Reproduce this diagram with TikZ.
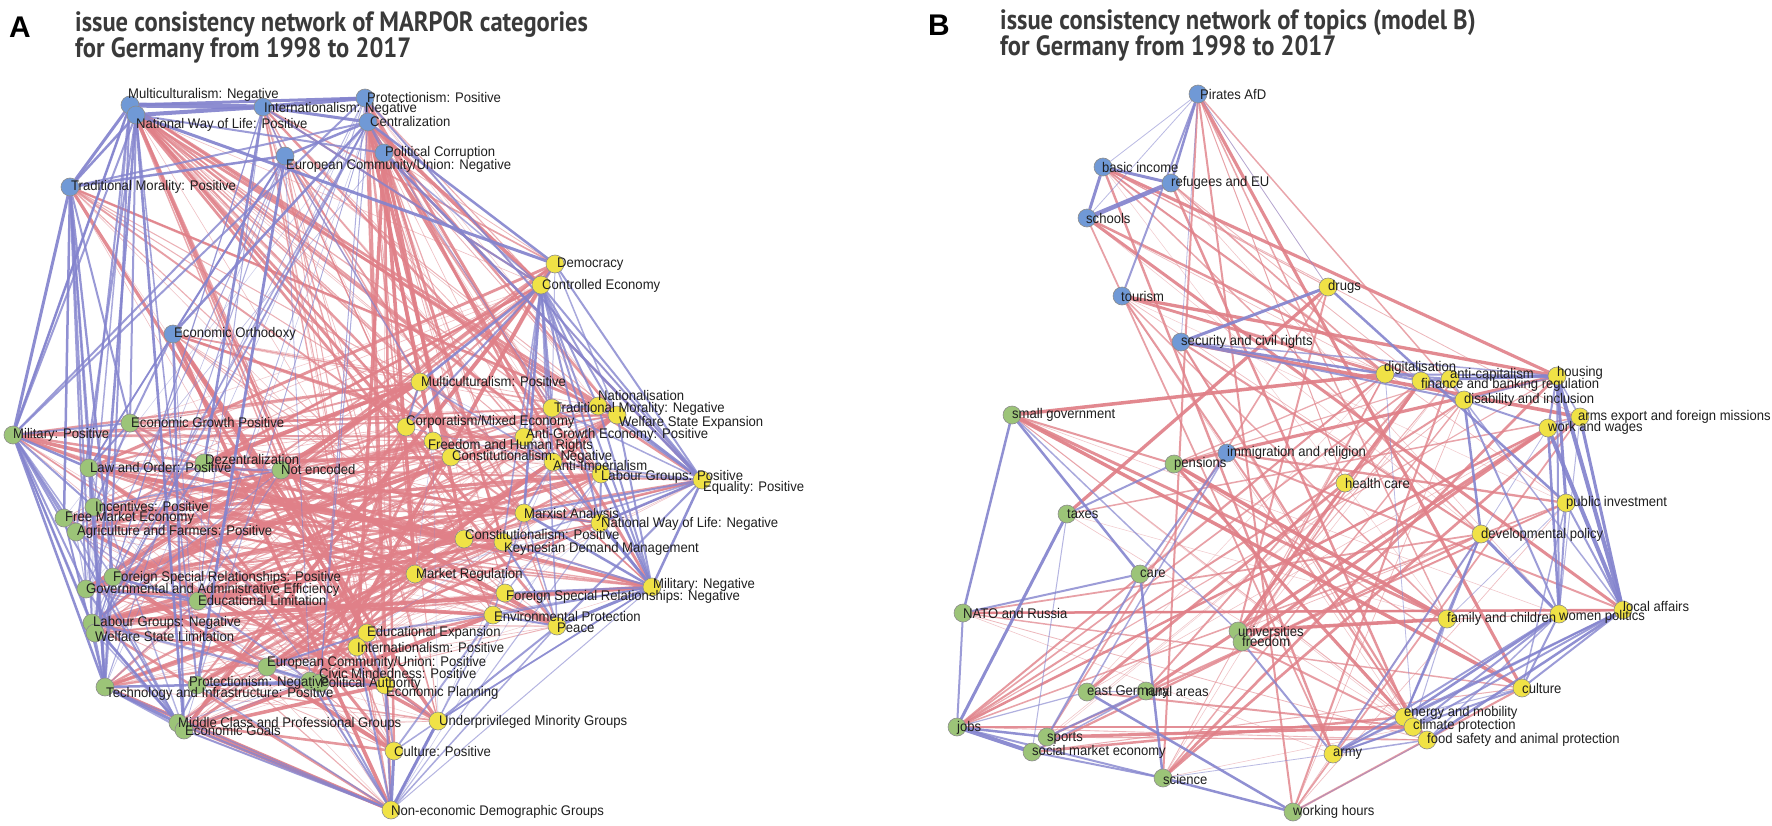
\documentclass[tikz,border=0pt]{standalone}
\usepackage{fontspec}
\setmainfont{Liberation Sans}
\newfontfamily\labfont{Liberation Sans}[FakeStretch=0.94]
\newfontfamily\labfontb{Liberation Sans}[FakeStretch=0.93]
\newfontfamily\titlefont{PT Sans}[FakeStretch=0.88]
\pgfdeclarelayer{edges}
\pgfdeclarelayer{labels}
\pgfsetlayers{edges,main,labels}
\definecolor{nblue}{RGB}{112,153,214}
\definecolor{ngreen}{RGB}{156,196,120}
\definecolor{nyellow}{RGB}{240,226,70}
\definecolor{eblue}{RGB}{132,132,206}
\definecolor{ered}{RGB}{224,128,136}
\definecolor{titlegray}{RGB}{58,58,58}
\tikzset{
  nd/.style={circle, minimum size=18bp, inner sep=0pt, draw=black!45, line width=0.6bp},
  bn/.style={nd, fill=nblue}, gn/.style={nd, fill=ngreen}, yn/.style={nd, fill=nyellow},
  labA/.style={anchor=west, inner sep=0pt, font=\labfont\fontsize{14}{15}\selectfont, text=black!88},
  labB/.style={anchor=west, inner sep=0pt, font=\labfontb\fontsize{14.1}{15}\selectfont, text=black!88},
  be/.style={draw=eblue, line cap=round},
  re/.style={draw=ered, line cap=round},
  ttl/.style={anchor=base west, inner sep=0pt, font=\titlefont\bfseries\fontsize{28}{30}\selectfont, text=titlegray},
  panel/.style={anchor=base west, inner sep=0pt, font=\bfseries\fontsize{30}{30}\selectfont, text=black},
}
\newcommand\vtx[8]{\node[#4] (#1) at (#2,#3) {};
  \begin{pgfonlayer}{labels}\node[#5] (#1-l) at (#6,#7) {#8};\end{pgfonlayer}}
\newcommand\crossedges[5]{%
  \foreach \a in #1 {\foreach \b in #2 {%
    \pgfmathsetmacro\rr{rnd}%
    \ifdim\rr pt<#3pt\relax
      \pgfmathsetmacro\rs{rnd}%
      \pgfmathsetmacro\ww{0.5+#5*\rs*\rs}%
      \pgfmathsetmacro\oo{0.4+0.55*\rs}%
      \draw[#4,line width=\ww bp,draw opacity=\oo] (\a) -- (\b);%
    \fi}}}
\newcommand\withinedges[4]{%
  \foreach \a [count=\i] in #1 {\foreach \b [count=\j] in #1 {%
    \ifnum\j>\i\relax
      \pgfmathsetmacro\rr{rnd}%
      \ifdim\rr pt<#2pt\relax
        \pgfmathsetmacro\rs{rnd}%
        \pgfmathsetmacro\ww{0.5+#4*\rs*\rs}%
        \pgfmathsetmacro\oo{0.3+0.5*\rs}%
        \draw[#3,line width=\ww bp,draw opacity=\oo] (\a) -- (\b);%
      \fi
    \fi}}}
\newcommand\fixededges[2]{%
  \foreach \u/\v/\w in {#2} {%
    \pgfmathsetmacro\oo{min(0.92,0.4+0.2*\w)}%
    \draw[#1,line width=\w bp,draw opacity=\oo] (\u) -- (\v);}}
\def\aBlue{aMultNeg,aNWLPos,aIntNeg,aProtPos,aCentral,aPolCorr,aEUNeg,aTradMorPos,aEconOrth}
\def\aGreen{aMilPos,aEconGrowth,aLawOrder,aDezent,aNotEnc,aIncent,aFreeMkt,aAgri,aFSRPos,aGovAdm,aEduLim,aLabNeg,aWelfLim,aTechInf,aProtNeg,aEUPos,aCivic,aPolAuth,aMidClass,aEconGoals}
\def\aYellow{aDemocracy,aContrEcon,aMultPos,aNationalis,aTradMorNeg,aWelfExp,aCorpor,aFreedom,aConstNeg,aAntiGrowth,aAntiImp,aLabPos,aEquality,aMarxist,aNWLNeg,aConstPos,aKeynes,aMktReg,aMilNeg,aFSRNeg,aEnvProt,aPeace,aEduExp,aIntPos,aEconPlan,aUnderpriv,aCulturePos,aNonEcon}
\def\bBG{bPirates,bBasic,bRefugees,bSchools,bTourism,bSecurity,bImmig,bSmallGov,bPensions,bTaxes,bCare,bNATO,bUniv,bFreedom,bEastG,bRural,bJobs,bSports,bSocMkt,bScience,bWorking}
\def\bYellow{bDrugs,bDigital,bFinance,bAnticap,bHousing,bDisab,bArms,bWork,bHealth,bPublic,bDevelop,bLocal,bWomen,bFamily,bCulture,bEnergy,bClimate,bFood,bArmy}
\begin{document}
\begin{tikzpicture}[x=1bp,y=-1bp]
\useasboundingbox (0,0) rectangle (1772,826);
\begin{pgfonlayer}{edges}
\fill[white] (0,0) rectangle (1772,826);
\end{pgfonlayer}
% titles
\node[panel] (pA) at (9,37) {A};
\node[ttl] (tA1) at (75,31) {issue consistency network of MARPOR categories};
\node[ttl] (tA2) at (75,57) {for Germany from 1998 to 2017};
\node[panel] (pB) at (928,35) {B};
\node[ttl] (tB1) at (1000,29) {issue consistency network of topics (model B)};
\node[ttl] (tB2) at (1000,55) {for Germany from 1998 to 2017};
% ---------- panel A nodes ----------
\vtx{aMultNeg}{130}{105}{bn}{labA}{128}{95}{Multiculturalism: Negative}
\vtx{aNWLPos}{136}{115}{bn}{labA}{136}{125}{National Way of Life: Positive}
\vtx{aIntNeg}{263}{107}{bn}{labA}{264}{109}{Internationalism: Negative}
\vtx{aProtPos}{365}{98}{bn}{labA}{367}{98}{Protectionism: Positive}
\vtx{aCentral}{368}{122}{bn}{labA}{370}{122}{Centralization}
\vtx{aPolCorr}{384}{153}{bn}{labA}{385}{153}{Political Corruption}
\vtx{aEUNeg}{285}{156}{bn}{labA}{286}{166}{European Community/Union: Negative}
\vtx{aTradMorPos}{70}{187}{bn}{labA}{71}{187}{Traditional Morality: Positive}
\vtx{aEconOrth}{173}{334}{bn}{labA}{174}{334}{Economic Orthodoxy}
\vtx{aMilPos}{13}{435}{gn}{labA}{13}{435}{Military: Positive}
\vtx{aEconGrowth}{130}{423}{gn}{labA}{131}{423}{Economic Growth Positive}
\vtx{aLawOrder}{89}{468}{gn}{labA}{90}{468}{Law and Order: Positive}
\vtx{aDezent}{204}{463}{gn}{labA}{205}{460}{Dezentralization}
\vtx{aNotEnc}{281}{470}{gn}{labA}{281}{470}{Not encoded}
\vtx{aIncent}{94}{507}{gn}{labA}{95}{507}{Incentives: Positive}
\vtx{aFreeMkt}{64}{518}{gn}{labA}{65}{518}{Free Market Economy}
\vtx{aAgri}{76}{532}{gn}{labA}{77}{532}{Agriculture and Farmers: Positive}
\vtx{aFSRPos}{113}{577}{gn}{labA}{113}{578}{Foreign Special Relationships: Positive}
\vtx{aGovAdm}{86}{589}{gn}{labA}{86}{590}{Governmental and Administrative Efficiency}
\vtx{aEduLim}{198}{601}{gn}{labA}{198}{601}{Educational Limitation}
\vtx{aLabNeg}{92}{623}{gn}{labA}{93}{623}{Labour Groups: Negative}
\vtx{aWelfLim}{95}{633}{gn}{labA}{95}{637}{Welfare State Limitation}
\vtx{aTechInf}{105}{687}{gn}{labA}{106}{694}{Technology and Infrastructure: Positive}
\vtx{aProtNeg}{197}{685}{gn}{labA}{189}{683}{Protectionism: Negative}
\vtx{aEUPos}{267}{667}{gn}{labA}{267}{663}{European Community/Union: Positive}
\vtx{aCivic}{310}{681}{gn}{labA}{319}{674}{Civic Mindedness: Positive}
\vtx{aPolAuth}{320}{683}{gn}{labA}{320}{684}{Political Authority}
\vtx{aMidClass}{178}{723}{gn}{labA}{178}{724}{Middle Class and Professional Groups}
\vtx{aEconGoals}{184}{730}{gn}{labA}{185}{731}{Economic Goals}
\vtx{aDemocracy}{555}{264}{yn}{labA}{557}{264}{Democracy}
\vtx{aContrEcon}{541}{285}{yn}{labA}{542}{286}{Controlled Economy}
\vtx{aMultPos}{420}{382}{yn}{labA}{421}{382}{Multiculturalism: Positive}
\vtx{aNationalis}{598}{406}{yn}{labA}{598}{396}{Nationalisation}
\vtx{aTradMorNeg}{552}{408}{yn}{labA}{554}{409}{Traditional Morality: Negative}
\vtx{aWelfExp}{617}{415}{yn}{labA}{619}{423}{Welfare State Expansion}
\vtx{aCorpor}{406}{427}{yn}{labA}{406}{422}{Corporatism/Mixed Economy}
\vtx{aFreedom}{433}{441}{yn}{labA}{428}{446}{Freedom and Human Rights}
\vtx{aConstNeg}{451}{457}{yn}{labA}{452}{457}{Constitutionalism: Negative}
\vtx{aAntiGrowth}{524}{437}{yn}{labA}{526}{435}{Anti-Growth Economy: Positive}
\vtx{aAntiImp}{553}{462}{yn}{labA}{553}{467}{Anti-Imperialism}
\vtx{aLabPos}{601}{474}{yn}{labA}{601}{477}{Labour Groups: Positive}
\vtx{aEquality}{702}{480}{yn}{labA}{703}{488}{Equality: Positive}
\vtx{aMarxist}{524}{513}{yn}{labA}{524}{515}{Marxist Analysis}
\vtx{aNWLNeg}{600}{523}{yn}{labA}{601}{524}{National Way of Life: Negative}
\vtx{aConstPos}{464}{539}{yn}{labA}{465}{535}{Constitutionalism: Positive}
\vtx{aKeynes}{503}{542}{yn}{labA}{504}{549}{Keynesian Demand Management}
\vtx{aMktReg}{415}{574}{yn}{labA}{416}{575}{Market Regulation}
\vtx{aMilNeg}{652}{587}{yn}{labA}{653}{585}{Military: Negative}
\vtx{aFSRNeg}{505}{593}{yn}{labA}{506}{597}{Foreign Special Relationships: Negative}
\vtx{aEnvProt}{493}{615}{yn}{labA}{494}{617}{Environmental Protection}
\vtx{aPeace}{557}{626}{yn}{labA}{557}{628}{Peace}
\vtx{aEduExp}{367}{633}{yn}{labA}{367}{633}{Educational Expansion}
\vtx{aIntPos}{357}{647}{yn}{labA}{357}{648}{Internationalism: Positive}
\vtx{aEconPlan}{385}{685}{yn}{labA}{386}{693}{Economic Planning}
\vtx{aUnderpriv}{438}{721}{yn}{labA}{439}{722}{Underprivileged Minority Groups}
\vtx{aCulturePos}{394}{751}{yn}{labA}{394}{752}{Culture: Positive}
\vtx{aNonEcon}{391}{810}{yn}{labA}{391}{812}{Non-economic Demographic Groups}
% ---------- panel B nodes ----------
\vtx{bPirates}{1198}{94}{bn}{labB}{1200}{94}{Pirates AfD}
\vtx{bBasic}{1103}{167}{bn}{labB}{1102}{167}{basic income}
\vtx{bRefugees}{1171}{183}{bn}{labB}{1171}{183}{refugees and EU}
\vtx{bSchools}{1087}{218}{bn}{labB}{1086}{218}{schools}
\vtx{bTourism}{1122}{296}{bn}{labB}{1121}{296}{tourism}
\vtx{bSecurity}{1181}{342}{bn}{labB}{1181}{342}{security and civil rights}
\vtx{bImmig}{1227}{453}{bn}{labB}{1227}{453}{immigration and religion}
\vtx{bDrugs}{1328}{287}{yn}{labB}{1328}{287}{drugs}
\vtx{bDigital}{1385}{374}{yn}{labB}{1384}{368}{digitalisation}
\vtx{bFinance}{1421}{381}{yn}{labB}{1421}{385}{finance and banking regulation}
\vtx{bAnticap}{1450}{379}{yn}{labB}{1450}{375}{anti-capitalism}
\vtx{bHousing}{1557}{376}{yn}{labB}{1557}{373}{housing}
\vtx{bDisab}{1464}{400}{yn}{labB}{1464}{400}{disability and inclusion}
\vtx{bArms}{1580}{417}{yn}{labB}{1578}{417}{arms export and foreign missions}
\vtx{bWork}{1548}{428}{yn}{labB}{1548}{428}{work and wages}
\vtx{bHealth}{1345}{483}{yn}{labB}{1345}{483}{health care}
\vtx{bPublic}{1566}{503}{yn}{labB}{1566}{503}{public investment}
\vtx{bDevelop}{1481}{534}{yn}{labB}{1481}{535}{developmental policy}
\vtx{bLocal}{1623}{610}{yn}{labB}{1623}{606}{local affairs}
\vtx{bWomen}{1559}{614}{yn}{labB}{1559}{617}{women politics}
\vtx{bFamily}{1447}{619}{yn}{labB}{1447}{619}{family and children}
\vtx{bCulture}{1522}{688}{yn}{labB}{1522}{688}{culture}
\vtx{bEnergy}{1404}{717}{yn}{labB}{1404}{713}{energy and mobility}
\vtx{bClimate}{1413}{727}{yn}{labB}{1413}{726}{climate protection}
\vtx{bFood}{1427}{740}{yn}{labB}{1427}{740}{food safety and animal protection}
\vtx{bArmy}{1333}{754}{yn}{labB}{1333}{754}{army}
\vtx{bSmallGov}{1012}{415}{gn}{labB}{1012}{415}{small government}
\vtx{bPensions}{1174}{464}{gn}{labB}{1174}{464}{pensions}
\vtx{bTaxes}{1067}{514}{gn}{labB}{1067}{514}{taxes}
\vtx{bCare}{1140}{574}{gn}{labB}{1140}{574}{care}
\vtx{bNATO}{963}{613}{gn}{labB}{963}{613}{NATO and Russia}
\vtx{bUniv}{1238}{631}{gn}{labB}{1238}{631}{universities}
\vtx{bFreedom}{1242}{642}{gn}{labB}{1242}{641}{freedom}
\vtx{bEastG}{1087}{692}{gn}{labB}{1087}{692}{east Germany}
\vtx{bRural}{1146}{691}{gn}{labB}{1146}{691}{rural areas}
\vtx{bJobs}{957}{727}{gn}{labB}{957}{728}{jobs}
\vtx{bSports}{1047}{737}{gn}{labB}{1047}{738}{sports}
\vtx{bSocMkt}{1032}{752}{gn}{labB}{1032}{752}{social market economy}
\vtx{bScience}{1163}{778}{gn}{labB}{1163}{779}{science}
\vtx{bWorking}{1293}{812}{gn}{labB}{1293}{812}{working hours}
% ---------- edges ----------
\begin{pgfonlayer}{edges}
\pgfmathsetseed{11}
% panel A red
\crossedges{\aGreen}{\aYellow}{0.37}{re}{3.6}
\crossedges{\aBlue}{\aYellow}{0.38}{re}{3.4}
% panel A blue
\withinedges{\aGreen}{0.18}{be}{2.5}
\crossedges{\aBlue}{\aGreen}{0.2}{be}{2.5}
\withinedges{\aYellow}{0.08}{be}{2}
\fixededges{be}{aMilPos/aTradMorPos/3,aMilPos/aMultNeg/2.5,aMilPos/aNWLPos/2,aMilPos/aLawOrder/2.5,aMilPos/aIncent/2,aMilPos/aFreeMkt/2,aMilPos/aAgri/2,aMilPos/aGovAdm/2,aMilPos/aLabNeg/2,aMilPos/aWelfLim/2,aMilPos/aTechInf/2.5,aMilPos/aEconGrowth/2,aMilPos/aMidClass/2,aMilPos/aFSRPos/1.5,
aMultNeg/aIntNeg/5,aNWLPos/aIntNeg/4,aIntNeg/aProtPos/4,aMultNeg/aProtPos/3,aIntNeg/aCentral/3,aProtPos/aCentral/3,aCentral/aPolCorr/2,aNWLPos/aPolCorr/2,aMultNeg/aTradMorPos/3,aNWLPos/aTradMorPos/2.5,aTradMorPos/aEUNeg/2.5,aTradMorPos/aCentral/2,aEUNeg/aCentral/2.5,aEUNeg/aEconOrth/2,aCentral/aEconOrth/2.5,aIntNeg/aEUNeg/1.5,
aMultNeg/aLawOrder/2,aMultNeg/aIncent/1.5,aNWLPos/aAgri/2,aNWLPos/aEconGrowth/2,aTradMorPos/aFreeMkt/2.5,aTradMorPos/aGovAdm/2,aTradMorPos/aLabNeg/2,aTradMorPos/aTechInf/2,aTradMorPos/aIncent/2,aEconOrth/aEconGrowth/2,aEconOrth/aLawOrder/1.5,aEconOrth/aProtNeg/1,aCentral/aFSRPos/1.5,aEUNeg/aMilPos/2,aProtPos/aMilPos/2,
aPolCorr/aEquality/2.5,aCentral/aDemocracy/2.5,aNWLPos/aDemocracy/3,aIntNeg/aContrEcon/2,aProtPos/aEquality/2,aPolCorr/aContrEcon/1.5,aEUNeg/aMultPos/1.5,aCentral/aTradMorNeg/1,
aNonEcon/aMidClass/2,aNonEcon/aEconGoals/2,aNonEcon/aTechInf/1.5,aNonEcon/aProtNeg/1.5,aNonEcon/aPolAuth/2,aNonEcon/aCivic/2,aNonEcon/aCulturePos/3,aNonEcon/aUnderpriv/3,aNonEcon/aEconPlan/2,aNonEcon/aMilNeg/1,aNonEcon/aPeace/1.5,aNonEcon/aEnvProt/1.5,aNonEcon/aIntPos/2,
aTechInf/aProtNeg/2.5,aTechInf/aMidClass/3,aProtNeg/aMidClass/2,aProtNeg/aPolAuth/2.5,aProtNeg/aCivic/2,aEUPos/aPolAuth/2,aEUPos/aEduExp/2,aPolAuth/aEconPlan/2,aMidClass/aEconGoals/2,aLabNeg/aTechInf/2,aGovAdm/aMidClass/2,aFSRPos/aEduLim/2.5,aGovAdm/aEduLim/2,aLabNeg/aMidClass/2,aFreeMkt/aTechInf/2,aAgri/aMidClass/1.5,aIncent/aEconGrowth/2,aLawOrder/aEconGrowth/2,aIncent/aNotEnc/1.5,
aEquality/aNationalis/2,aEquality/aWelfExp/2.5,aEquality/aLabPos/2,aEquality/aMarxist/2,aEquality/aNWLNeg/2.5,aEquality/aMilNeg/2.5,aEquality/aKeynes/1.5,aEquality/aPeace/2,aEquality/aDemocracy/2,aEquality/aContrEcon/2,aEquality/aAntiImp/1.5,aEquality/aTradMorNeg/1.5,
aContrEcon/aDemocracy/2,aContrEcon/aNationalis/2,aContrEcon/aTradMorNeg/2,aContrEcon/aWelfExp/2,aContrEcon/aAntiImp/2,aContrEcon/aLabPos/2,aContrEcon/aMarxist/2.5,aContrEcon/aNWLNeg/2,aContrEcon/aKeynes/1.5,aContrEcon/aMilNeg/2,aContrEcon/aMultPos/2.5,aContrEcon/aAntiGrowth/2,aContrEcon/aPeace/1.5,aContrEcon/aCorpor/2,
aMilNeg/aNWLNeg/3,aMilNeg/aMarxist/2.5,aMilNeg/aKeynes/2,aMilNeg/aPeace/3,aMilNeg/aFSRNeg/2,aMilNeg/aEnvProt/2,aMilNeg/aLabPos/2.5,aMilNeg/aWelfExp/2,aMilNeg/aNationalis/2,aMilNeg/aAntiImp/2,aMilNeg/aUnderpriv/1.5,aMilNeg/aEduExp/1,
aPeace/aEnvProt/2,aPeace/aMarxist/1.5,aPeace/aUnderpriv/2,aPeace/aKeynes/2,aEnvProt/aEduExp/1.5,aEnvProt/aMarxist/1.5,aUnderpriv/aCulturePos/1.5,aEduExp/aIntPos/2,aEconPlan/aCulturePos/1.5,aMultPos/aCorpor/2,aMultPos/aAntiImp/1.5,aNWLNeg/aLabPos/2,aNWLNeg/aMarxist/1.5,aWelfExp/aNationalis/2,aTradMorNeg/aNationalis/2,aAntiGrowth/aAntiImp/1.5,aDemocracy/aWelfExp/1.5}
% panel B red
\crossedges{\bBG}{\bYellow}{0.3}{re}{3.2}
\fixededges{re}{bPirates/bScience/2,bPirates/bWorking/2,bPirates/bFamily/1.5,bPirates/bHealth/1,bBasic/bDigital/2,bBasic/bDevelop/1.5,bSmallGov/bPensions/2,bTourism/bFamily/1.5,bNATO/bLocal/2.5,bJobs/bDigital/2,bJobs/bWork/2.5,bJobs/bDisab/2}
% panel B blue
\fixededges{be}{bPirates/bBasic/0.8,bPirates/bSchools/0.8,bPirates/bSecurity/0.8,bPirates/bDrugs/0.8,bPirates/bRefugees/2.5,bPirates/bTourism/2,
bBasic/bRefugees/3,bBasic/bSchools/3,bSchools/bRefugees/4.5,
bDrugs/bSecurity/3,bDrugs/bPublic/2.5,
bSecurity/bDigital/2.5,bSecurity/bHousing/1.5,bSecurity/bDisab/2,
bImmig/bCare/2,bImmig/bEastG/1.5,
bSmallGov/bNATO/2.5,bSmallGov/bCare/2.5,bSmallGov/bUniv/1.5,
bTaxes/bPensions/2,bTaxes/bJobs/3,bTaxes/bSocMkt/1,
bNATO/bCare/2,bNATO/bJobs/2,bCare/bScience/2.5,bCare/bSports/2,
bJobs/bSports/2.5,bJobs/bSocMkt/4,bJobs/bScience/2,bJobs/bEastG/1.2,
bSocMkt/bScience/2,bScience/bWorking/2.5,bEastG/bWorking/2.5,bSports/bRural/2,bSocMkt/bRural/1.5,bEastG/bRural/1,
bFreedom/bArmy/2,bScience/bArmy/0.8,bWorking/bFood/0.8,
bDigital/bFinance/2,bDigital/bAnticap/2,bFinance/bAnticap/2,bAnticap/bHousing/3,bDigital/bHousing/2,bFinance/bDisab/1.5,bAnticap/bDisab/1.5,bDisab/bHousing/1.5,bDisab/bWork/2,bHousing/bWork/2,bHousing/bArms/1.5,bWork/bArms/1.5,
bHousing/bLocal/4,bHousing/bPublic/3,bWork/bLocal/4,bArms/bLocal/3,bWork/bWomen/2.5,bPublic/bLocal/2,bHousing/bWomen/2,
bDisab/bDevelop/2.5,bDisab/bWomen/2,bDisab/bLocal/1.5,bDevelop/bWomen/3,bDevelop/bFamily/2,bDevelop/bEnergy/2,
bPublic/bWomen/2,bPublic/bCulture/1.5,bWomen/bCulture/2,bLocal/bCulture/2,bLocal/bEnergy/2,bLocal/bFood/2.5,bLocal/bClimate/2,bWomen/bEnergy/2.5,bWomen/bClimate/2,bWomen/bFood/1.5,bFamily/bEnergy/2,bFamily/bClimate/1,bCulture/bEnergy/1,bCulture/bArmy/2,bArmy/bLocal/2,bArmy/bWomen/2,bArmy/bDevelop/2,bArmy/bEnergy/1.5,bArmy/bClimate/1.5,bArmy/bFood/1.5,bDigital/bClimate/0.8,bWork/bDevelop/0.8,bArms/bWomen/1,bPublic/bFamily/0.8}
\end{pgfonlayer}
\end{tikzpicture}
\end{document}
